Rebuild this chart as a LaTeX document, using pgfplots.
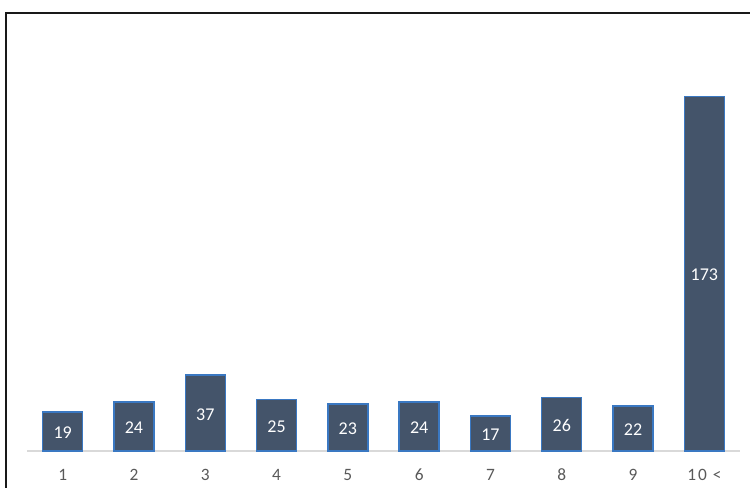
\documentclass[border=0pt]{standalone}
\usepackage{pgfplots}
\pgfplotsset{compat=1.18}
\usepackage{fontspec}
\setmainfont{Carlito}
\definecolor{barfill}{HTML}{44546A}
\definecolor{barline}{HTML}{3A78C2}
\definecolor{axisgray}{HTML}{D9D9D9}
\definecolor{labgray}{HTML}{595959}
\begin{document}
\begin{tikzpicture}
\path[use as bounding box] (0,0) rectangle (564.75pt,366pt);
\draw[line width=1.5pt, black!90] (4.5pt,0) -- (4.5pt,356.25pt) -- (562.5pt,356.25pt);
\begin{axis}[
  at={(20.25pt,27.75pt)}, anchor=south west,
  scale only axis, width=534.75pt, height=307.5pt,
  xmin=0.5, xmax=10.5, ymin=0, ymax=200,
  axis y line=none, axis x line*=bottom,
  x axis line style={draw=axisgray, line width=1.1pt, -},
  xtick={1,...,10},
  xticklabels={1,2,3,4,5,6,7,8,9,{1\hspace{1.5pt}0\hspace{4.5pt}<}},
  major tick length=0pt,
  ytick=\empty,
  xticklabel style={font=\fontsize{13}{15}\selectfont, text=labgray, anchor=center, yshift=-18pt},
  ybar, bar width=30pt,
  visualization depends on=y \as \rawy,
  nodes near coords={\pgfmathprintnumber[assume math mode=true]{\pgfplotspointmeta}},
  nodes near coords style={anchor=center, font=\fontsize{13.5}{16}\selectfont, text=white,
    shift={(axis direction cs:0,-\rawy/2)}, yshift=-1pt},
  clip=false,
]
\addplot[fill=barfill, draw=barline, line width=1.1pt] coordinates {
 (1,19) (2,24) (3,37) (4,25) (5,23) (6,24) (7,17) (8,26) (9,22) (10,173)
};
\end{axis}
\end{tikzpicture}
\end{document}
